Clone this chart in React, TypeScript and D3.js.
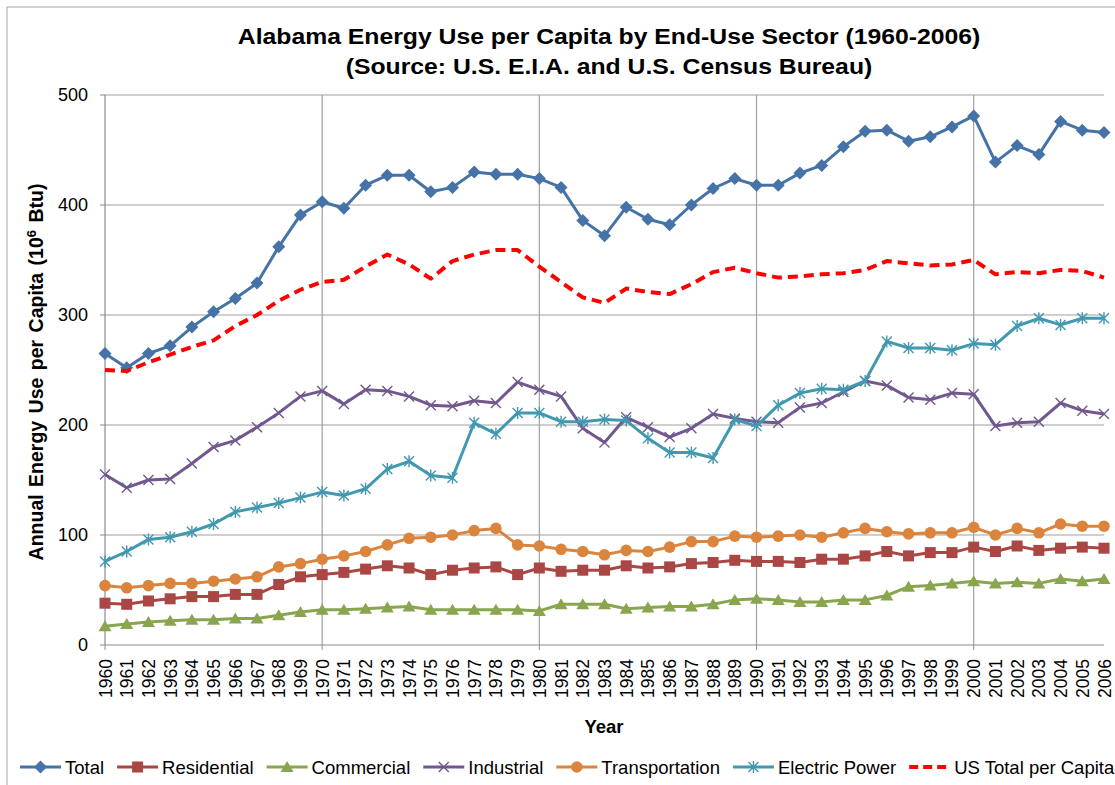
import React from "react";
import * as d3 from "d3";

const years: number[] = d3.range(1960, 2007);
const yTicks: number[] = [0, 100, 200, 300, 400, 500];

const total = [265, 252, 265, 272, 289, 303, 315, 329, 362, 391, 403, 397, 418, 427, 427, 412, 416, 430, 428, 428, 424, 416, 386, 372, 398, 387, 382, 400, 415, 424, 418, 418, 429, 436, 453, 467, 468, 458, 462, 471, 481, 439, 454, 446, 476, 468, 466];
const residential = [38, 37, 40, 42, 44, 44, 46, 46, 55, 62, 64, 66, 69, 72, 70, 64, 68, 70, 71, 64, 70, 67, 68, 68, 72, 70, 71, 74, 75, 77, 76, 76, 75, 78, 78, 81, 85, 81, 84, 84, 89, 85, 90, 86, 88, 89, 88];
const commercial = [17, 19, 21, 22, 23, 23, 24, 24, 27, 30, 32, 32, 33, 34, 35, 32, 32, 32, 32, 32, 31, 37, 37, 37, 33, 34, 35, 35, 37, 41, 42, 41, 39, 39, 41, 41, 45, 53, 54, 56, 58, 56, 57, 56, 60, 58, 60];
const industrial = [155, 143, 150, 151, 165, 180, 186, 198, 211, 226, 231, 219, 232, 231, 226, 218, 217, 222, 220, 239, 232, 226, 197, 184, 207, 198, 189, 197, 210, 206, 203, 202, 216, 220, 230, 240, 236, 225, 223, 229, 228, 199, 202, 203, 220, 213, 210];
const transportation = [54, 52, 54, 56, 56, 58, 60, 62, 71, 74, 78, 81, 85, 91, 97, 98, 100, 104, 106, 91, 90, 87, 85, 82, 86, 85, 89, 94, 94, 99, 98, 99, 100, 98, 102, 106, 103, 101, 102, 102, 107, 100, 106, 102, 110, 108, 108];
const electric = [76, 85, 96, 98, 103, 110, 121, 125, 129, 134, 139, 136, 142, 160, 167, 154, 152, 202, 192, 211, 211, 203, 203, 205, 204, 188, 175, 175, 170, 205, 199, 218, 229, 233, 232, 240, 276, 270, 270, 268, 274, 273, 290, 297, 291, 297, 297];
const usTotal = [250, 249, 257, 264, 271, 277, 290, 300, 313, 323, 330, 332, 344, 355, 346, 333, 349, 355, 359, 359, 344, 330, 316, 311, 324, 321, 319, 328, 339, 343, 338, 334, 335, 337, 338, 341, 349, 347, 345, 346, 350, 337, 339, 338, 341, 340, 334];

const seriesNames = ["Total", "Residential", "Commercial", "Industrial", "Transportation", "Electric Power", "US Total per Capita"];
const seriesValues = [total, residential, commercial, industrial, transportation, electric, usTotal];
const seriesColors = ["#4572A7", "#AA4643", "#89A54E", "#71588F", "#DB843D", "#4198AF", "#FF0000"];
const seriesMarkers = ["diamond", "square", "triangle", "x", "circle", "star", "none"];

const FONT = "'Liberation Sans', Arial, sans-serif";
const W = 1115, H = 785;
const margin = { left: 105, right: 1104, top: 95, bottom: 645 };

function Marker({ type, x, y, color }: { type: string; x: number; y: number; color: string }) {
  switch (type) {
    case "diamond":
      return <path d={`M${x},${y - 6.5}L${x + 6.5},${y}L${x},${y + 6.5}L${x - 6.5},${y}Z`} fill={color} />;
    case "square":
      return <rect x={x - 5.5} y={y - 5.5} width={11} height={11} fill={color} />;
    case "triangle":
      return <path d={`M${x},${y - 6}L${x + 6.5},${y + 5}L${x - 6.5},${y + 5}Z`} fill={color} />;
    case "circle":
      return <circle cx={x} cy={y} r={5.8} fill={color} />;
    case "x":
      return <path d={`M${x - 5},${y - 5}L${x + 5},${y + 5}M${x - 5},${y + 5}L${x + 5},${y - 5}`} stroke={color} strokeWidth={1.4} fill="none" />;
    case "star":
      return <path d={`M${x - 5},${y - 5}L${x + 5},${y + 5}M${x - 5},${y + 5}L${x + 5},${y - 5}M${x},${y - 6}L${x},${y + 6}`} stroke={color} strokeWidth={1.4} fill="none" />;
    default:
      return null;
  }
}

function measure(text: string, font: string): number {
  const c = document.createElement("canvas").getContext("2d");
  if (!c) return text.length * 9;
  c.font = font;
  return c.measureText(text).width;
}

export default function App() {
  const x = d3.scaleLinear().domain([1960, 2006]).range([margin.left, margin.right]);
  const y = d3.scaleLinear().domain([0, 500]).range([margin.bottom, margin.top]);
  const line = (vals: number[]) =>
    d3.line<number>().x((_, i) => x(years[i])).y((v) => y(v))(vals) || "";
  const decades = years.filter((yr) => yr % 10 === 0);

  // legend layout
  const legSize = 18.5;
  const legFont = `${legSize}px ${FONT}`;
  let lx = 20;
  const legendItems = seriesNames.map((name, i) => {
    const item = { name, i, x0: lx };
    lx += 41 + 4 + measure(name, legFont) + 13;
    return item;
  });
  const legY = 767;

  return (
    <svg width={W} height={H} style={{ position: "absolute", left: 0, top: 0, background: "#fff" }} fontFamily={FONT}>
      <rect x={0} y={0} width={W} height={H} fill="#fff" />
      <rect x={7} y={7} width={W + 20} height={H + 20} fill="none" stroke="#A6A6A6" strokeWidth={1} />

      {/* Title */}
      <g fontWeight="bold" fontSize={22.5} textAnchor="middle" fill="#000">
        <text transform={`translate(609,44) scale(1.1,1)`}>Alabama Energy Use per Capita by End-Use Sector (1960-2006)</text>
        <text transform={`translate(609,74) scale(1.1,1)`}>(Source: U.S. E.I.A. and U.S. Census Bureau)</text>
      </g>

      {/* Gridlines */}
      {yTicks.filter((t) => t > 0).map((t) => (
        <line key={"h" + t} x1={margin.left} x2={margin.right} y1={y(t)} y2={y(t)} stroke="#A0A0A0" strokeWidth={1.2} />
      ))}
      {decades.filter((d) => d > 1960).map((d) => (
        <line key={"v" + d} x1={x(d)} x2={x(d)} y1={margin.top} y2={margin.bottom} stroke="#A0A0A0" strokeWidth={1.2} />
      ))}

      {/* Axes */}
      <line x1={margin.left} x2={margin.left} y1={margin.top} y2={margin.bottom} stroke="#8C8C8C" strokeWidth={1.2} />
      <line x1={margin.left} x2={margin.right} y1={margin.bottom} y2={margin.bottom} stroke="#8C8C8C" strokeWidth={1.2} />
      {yTicks.map((t) => (
        <g key={"yt" + t}>
          <line x1={margin.left - 5} x2={margin.left} y1={y(t)} y2={y(t)} stroke="#8C8C8C" />
          <text x={88} y={y(t) + 6} fontSize={18} textAnchor="end" fill="#000">{t}</text>
        </g>
      ))}
      {decades.map((d) => (
        <line key={"xt" + d} x1={x(d)} x2={x(d)} y1={margin.bottom} y2={margin.bottom + 5} stroke="#8C8C8C" />
      ))}
      {years.map((yr) => (
        <text key={"xl" + yr} transform={`translate(${x(yr) + 6.5},659) rotate(-90) scale(1,1.08)`} fontSize={17.5} textAnchor="end" fill="#000">{yr}</text>
      ))}

      {/* Axis titles */}
      <text transform={`translate(43,372) rotate(-90)`} fontSize={19.5} fontWeight="bold" textAnchor="middle" fill="#000" wordSpacing={2}>
        Annual Energy Use per Capita (10<tspan dy={-7} fontSize={13}>6</tspan><tspan dy={7}> Btu)</tspan>
      </text>
      <text x={604} y={733} fontSize={18.5} fontWeight="bold" textAnchor="middle" fill="#000">Year</text>

      {/* Series */}
      {seriesValues.map((vals, si) => (
        <g key={"s" + si}>
          <path d={line(vals)} fill="none" stroke={seriesColors[si]} strokeWidth={si === 6 ? 4 : 3}
            strokeDasharray={si === 6 ? "10,6" : undefined} strokeLinejoin="round" />
          {vals.map((v, i) => (
            <Marker key={i} type={seriesMarkers[si]} x={x(years[i])} y={y(v)} color={seriesColors[si]} />
          ))}
        </g>
      ))}

      {/* Legend */}
      {legendItems.map(({ name, i, x0 }) => (
        <g key={"lg" + i}>
          <line x1={x0} x2={x0 + 41} y1={legY} y2={legY} stroke={seriesColors[i]} strokeWidth={i === 6 ? 4 : 3}
            strokeDasharray={i === 6 ? "9,5" : undefined} />
          <Marker type={seriesMarkers[i]} x={x0 + 20.5} y={legY} color={seriesColors[i]} />
          <text x={x0 + 45} y={legY + 6.5} fontSize={legSize} fill="#000">{name}</text>
        </g>
      ))}
    </svg>
  );
}
